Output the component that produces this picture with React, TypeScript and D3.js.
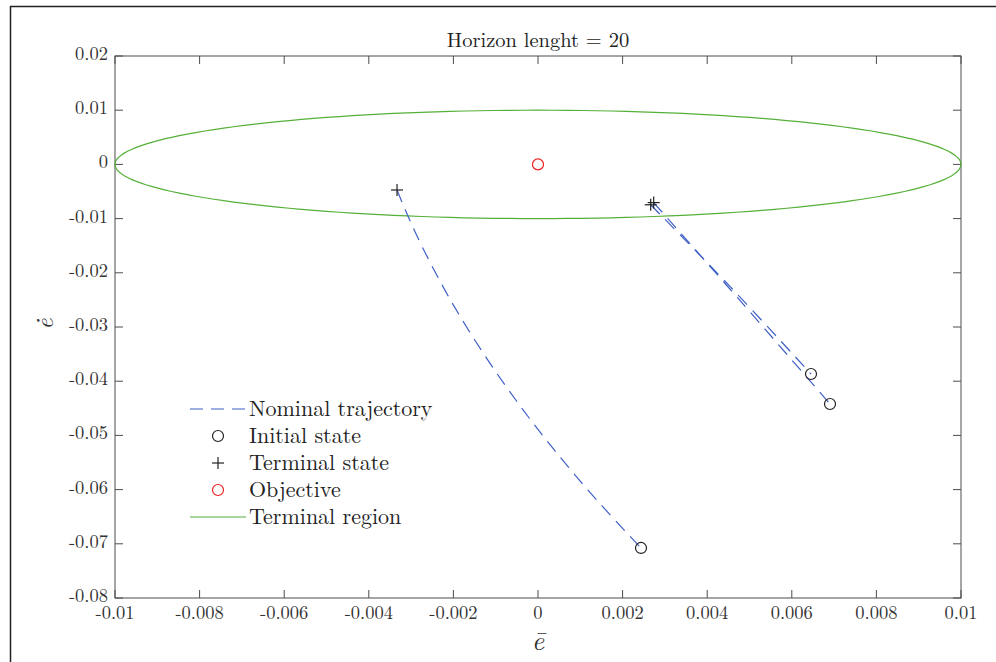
import React from "react";
import * as d3 from "d3";

const W = 996;
const H = 662;

const xTicks = [-0.01, -0.008, -0.006, -0.004, -0.002, 0, 0.002, 0.004, 0.006, 0.008, 0.01];
const yTicks = [0.02, 0.01, 0, -0.01, -0.02, -0.03, -0.04, -0.05, -0.06, -0.07, -0.08];

// Trajectory points [x, y]
const traj1: [number, number][] = [
  [-0.003333, -0.00472],
  [-0.003064, -0.0097],
  [-0.0027, -0.01579],
  [-0.002069, -0.02502],
  [-0.001343, -0.03424],
  [-0.000525, -0.04347],
  [0.000385, -0.05269],
  [0.001388, -0.06192],
  [0.002435, -0.07077],
];
const traj2: [number, number][] = [
  [0.002664, -0.00745],
  [0.00455, -0.0226],
  [0.006454, -0.03867],
];
const traj3: [number, number][] = [
  [0.002735, -0.00705],
  [0.00482, -0.0255],
  [0.006903, -0.04421],
];
const trajectories = [traj1, traj2, traj3];
const objective: [number, number] = [0, 0];
const regionRadiusX = 0.01;
const regionRadiusY = 0.01;
const legendLabels = ["Nominal trajectory", "Initial state", "Terminal state", "Objective", "Terminal region"];

const BLUE = "#3f5fc6";
const GREEN = "#55b038";
const RED = "#f02020";
const AX = "#4d4d4d";
const FONT = "'Latin Modern Roman', 'Liberation Serif', serif";

export default function App() {
  const x = d3.scaleLinear().domain([-0.01, 0.01]).range([115, 961]);
  const y = d3.scaleLinear().domain([-0.08, 0.02]).range([598, 56]);
  const line = d3
    .line<[number, number]>()
    .x((d) => x(d[0]))
    .y((d) => y(d[1]))
    .curve(d3.curveCatmullRom);

  const ellipsePts: [number, number][] = d3
    .range(0, 361, 2)
    .map((a) => [regionRadiusX * Math.cos((a * Math.PI) / 180), regionRadiusY * Math.sin((a * Math.PI) / 180)]);
  const ellLine = d3
    .line<[number, number]>()
    .x((d) => x(d[0]))
    .y((d) => y(d[1]));

  const fmt = (v: number) => (Math.abs(v) < 1e-12 ? "0" : String(+v.toFixed(3)));
  const tickLen = 8;
  const plus = (cx: number, cy: number, s: number, key?: any) => (
    <g key={key} stroke="#222" strokeWidth={1.2}>
      <line x1={cx - s} x2={cx + s} y1={cy} y2={cy} />
      <line x1={cx} x2={cx} y1={cy - s} y2={cy + s} />
    </g>
  );
  const legY = [409, 436, 463, 490, 517];
  const tstyle = { fontFamily: FONT };

  return (
    <div style={{ position: "absolute", left: 0, top: 0 }}>
      <svg width={W} height={H} style={{ display: "block", background: "#fff" }}>
        <rect x={0} y={0} width={W} height={H} fill="#fff" />
        {/* outer frame */}
        <line x1={10} x2={W} y1={6.5} y2={6.5} stroke="#222" strokeWidth={1.5} />
        <line x1={10.5} x2={10.5} y1={6} y2={H} stroke="#222" strokeWidth={1.5} />

        {/* axes box */}
        <rect x={115} y={56} width={846} height={542} fill="none" stroke={AX} strokeWidth={1} />
        {xTicks.map((t) => (
          <g key={"x" + t}>
            <line x1={x(t)} x2={x(t)} y1={598} y2={598 - tickLen} stroke={AX} />
            <line x1={x(t)} x2={x(t)} y1={56} y2={56 + tickLen} stroke={AX} />
            <text x={x(t)} y={619} textAnchor="middle" style={tstyle} fontSize={18.5} fill="#333">
              {fmt(t)}
            </text>
          </g>
        ))}
        {yTicks.map((t) => (
          <g key={"y" + t}>
            <line x1={115} x2={115 + tickLen} y1={y(t)} y2={y(t)} stroke={AX} />
            <line x1={961} x2={961 - tickLen} y1={y(t)} y2={y(t)} stroke={AX} />
            <text x={108} y={y(t) + 4} textAnchor="end" style={tstyle} fontSize={18.5} fill="#333">
              {fmt(t)}
            </text>
          </g>
        ))}

        {/* title and labels */}
        <text x={538} y={47} textAnchor="middle" style={tstyle} fontSize={20.5} fill="#222">
          Horizon lenght = 20
        </text>
        <text x={538} y={650} textAnchor="middle" style={tstyle} fontStyle="italic" fontSize={27} fill="#333">
          ē
        </text>
        <text
          transform="translate(53,324) rotate(-90)"
          textAnchor="middle"
          style={tstyle}
          fontStyle="italic"
          fontSize={24}
          fill="#333"
        >
          ė
        </text>

        {/* terminal region */}
        <path d={ellLine(ellipsePts) || ""} fill="none" stroke={GREEN} strokeWidth={1.2} />

        {/* trajectories */}
        {trajectories.map((tr, i) => (
          <path key={"t" + i} d={line(tr) || ""} fill="none" stroke={BLUE} strokeWidth={1.2} strokeDasharray="13,8" />
        ))}
        {trajectories.map((tr, i) => (
          <circle
            key={"c" + i}
            cx={x(tr[tr.length - 1][0])}
            cy={y(tr[tr.length - 1][1])}
            r={5.5}
            fill="none"
            stroke="#222"
            strokeWidth={1.2}
          />
        ))}
        {trajectories.map((tr, i) => plus(x(tr[0][0]), y(tr[0][1]), 6, "p" + i))}
        <circle cx={x(objective[0])} cy={y(objective[1])} r={5.5} fill="none" stroke={RED} strokeWidth={1.2} />

        {/* legend */}
        <line x1={190} x2={246} y1={legY[0]} y2={legY[0]} stroke={BLUE} strokeWidth={1.2} strokeDasharray="13,8" />
        <circle cx={218} cy={legY[1]} r={5.5} fill="none" stroke="#222" strokeWidth={1.2} />
        {plus(218, legY[2], 6, "lp")}
        <circle cx={218} cy={legY[3]} r={5.5} fill="none" stroke={RED} strokeWidth={1.2} />
        <line x1={190} x2={246} y1={legY[4]} y2={legY[4]} stroke={GREEN} strokeWidth={1.2} />
        {legendLabels.map((l, i) => (
          <text key={l} x={249} y={legY[i] + 7} style={tstyle} fontSize={22} fill="#222">
            {l}
          </text>
        ))}
      </svg>
    </div>
  );
}
